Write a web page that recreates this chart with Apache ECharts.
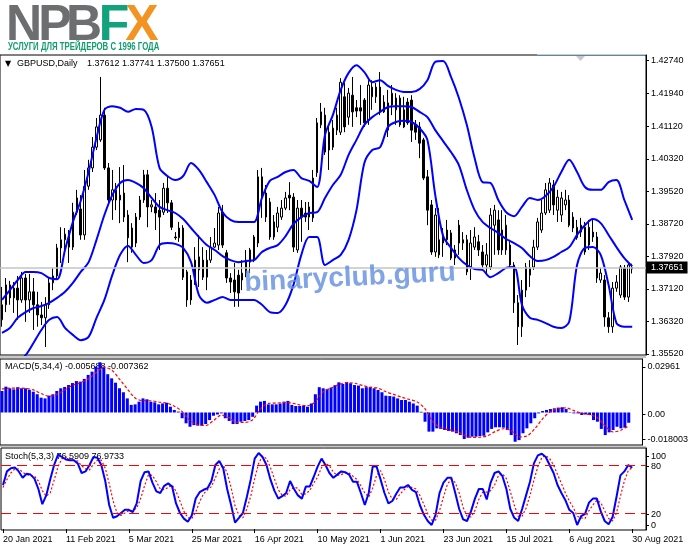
<!DOCTYPE html>
<html><head><meta charset="utf-8">
<script src="https://cdn.jsdelivr.net/npm/echarts@6/dist/echarts.min.js"></script>
<style>html,body{margin:0;padding:0;background:#fff}#c{width:691px;height:549px}</style>
</head><body><div id="c"></div>
<script>
// ---- tick labels ----
const tickLabels = ['20 Jan 2021','11 Feb 2021','5 Mar 2021','25 Mar 2021','16 Apr 2021','10 May 2021','1 Jun 2021','23 Jun 2021','15 Jul 2021','6 Aug 2021','30 Aug 2021'];
const priceTicks = [1.42740,1.41940,1.41120,1.40320,1.39520,1.38720,1.37920,1.37120,1.36320,1.35520];
const macdAxisLabels = ['0.02961','0.00','-0.018003'];
const stochAxisLabels = ['100','80','20','0'];

// ---- OHLC ----
const open = [
1.3636,1.3673,1.3722,1.3690,1.3714,1.3685,1.3739,1.3685,1.3705,1.3673,
1.3648,1.3641,1.3673,1.3727,1.3744,1.3813,1.3833,1.3847,1.3815,1.3901,
1.3909,1.3845,1.3965,1.4010,1.4061,1.4079,1.4140,1.4010,1.3931,1.3956,
1.3931,1.3948,1.3894,1.3815,1.3825,1.3889,1.3931,1.3993,1.3914,1.3914,
1.3906,1.3901,1.3960,1.3924,1.3840,1.3838,1.3862,1.3754,1.3734,1.3727,
1.3759,1.3783,1.3741,1.3783,1.3815,1.3820,1.3901,1.3801,1.3739,1.3734,
1.3746,1.3734,1.3751,1.3778,1.3783,1.3825,1.3988,1.3948,1.3926,1.3840,
1.3864,1.3889,1.3911,1.3943,1.3938,1.3808,1.3911,1.3899,1.3914,1.3887,
1.3998,1.4116,1.4140,1.4054,1.4061,1.4103,1.4098,1.4185,1.4135,1.4189,
1.4158,1.4158,1.4177,1.4128,1.4185,1.4185,1.4209,1.4172,1.4103,1.4165,
1.4153,1.4182,1.4153,1.4172,1.4177,1.4116,1.4111,1.4079,1.3988,1.3919,
1.3803,1.3833,1.3825,1.3833,1.3850,1.3788,1.3869,1.3833,1.3833,1.3766,
1.3815,1.3828,1.3803,1.3771,1.3766,1.3869,1.3882,1.3808,1.3808,1.3820,
1.3771,1.3678,1.3619,1.3709,1.3746,1.3766,1.3815,1.3857,1.3899,1.3906,
1.3968,1.3906,1.3894,1.3919,1.3931,1.3862,1.3838,1.3869,1.3803,1.3820,
1.3852,1.3840,1.3734,1.3734,1.3641,1.3619,1.3714,1.3697,1.3764,1.3692,
1.37612];
const close = [
1.3673,1.3722,1.3690,1.3714,1.3685,1.3739,1.3685,1.3705,1.3673,1.3648,
1.3641,1.3673,1.3727,1.3744,1.3813,1.3833,1.3847,1.3815,1.3901,1.3936,
1.3845,1.3965,1.4010,1.4061,1.4111,1.4140,1.4010,1.3931,1.3956,1.3931,
1.3943,1.3889,1.3838,1.3862,1.3889,1.3931,1.3993,1.3914,1.3919,1.3899,
1.3889,1.3960,1.3924,1.3864,1.3838,1.3862,1.3741,1.3685,1.3685,1.3783,
1.3791,1.3741,1.3783,1.3815,1.3825,1.3899,1.3820,1.3739,1.3729,1.3705,
1.3702,1.3751,1.3783,1.3808,1.3840,1.3988,1.3938,1.3889,1.3840,1.3877,
1.3899,1.3911,1.3936,1.3936,1.3815,1.3911,1.3889,1.3889,1.3889,1.3985,
1.4121,1.4148,1.4049,1.4098,1.4108,1.4140,1.4221,1.4111,1.4194,1.4148,
1.4150,1.4150,1.4121,1.4214,1.4209,1.4209,1.4148,1.4148,1.4170,1.4194,
1.4182,1.4116,1.4111,1.4121,1.4103,1.4098,1.4071,1.3985,1.3906,1.3803,
1.3894,1.3796,1.3845,1.3857,1.3788,1.3808,1.3825,1.3825,1.3754,1.3825,
1.3840,1.3808,1.3771,1.3796,1.3894,1.3906,1.3808,1.3857,1.3869,1.3771,
1.3678,1.3619,1.3709,1.3766,1.3764,1.3815,1.3877,1.3899,1.3956,1.3973,
1.3919,1.3938,1.3936,1.3931,1.3869,1.3889,1.3864,1.3852,1.3864,1.3864,
1.3840,1.3739,1.3751,1.3643,1.3619,1.3714,1.3729,1.3766,1.3692,1.3771,
1.37651];
const high = [
1.3717,1.3739,1.3732,1.3729,1.3744,1.3754,1.3749,1.3749,1.3739,1.3705,
1.3680,1.3692,1.3739,1.3764,1.3823,1.3864,1.3862,1.3857,1.3924,1.3956,
1.3943,1.4005,1.4030,1.4086,1.4133,1.4234,1.4158,1.4022,1.4005,1.3973,
1.4012,1.4017,1.3906,1.3874,1.3899,1.3941,1.4005,1.4005,1.3931,1.3948,
1.3931,1.3973,1.3988,1.3931,1.3852,1.3877,1.3869,1.3759,1.3746,1.3815,
1.3845,1.3815,1.3808,1.3840,1.3862,1.3914,1.3919,1.3808,1.3751,1.3776,
1.3759,1.3783,1.3808,1.3813,1.3845,1.4005,1.4010,1.3968,1.3936,1.3894,
1.3914,1.3931,1.3951,1.3975,1.3948,1.3931,1.3931,1.3926,1.3926,1.4005,
1.4133,1.4170,1.4158,1.4116,1.4128,1.4158,1.4231,1.4219,1.4207,1.4234,
1.4177,1.4214,1.4182,1.4226,1.4226,1.4219,1.4246,1.4189,1.4202,1.4214,
1.4194,1.4189,1.4185,1.4182,1.4189,1.4128,1.4123,1.4084,1.4005,1.3931,
1.3911,1.3911,1.3862,1.3882,1.3857,1.3820,1.3882,1.3852,1.3845,1.3857,
1.3864,1.3845,1.3820,1.3825,1.3911,1.3919,1.3906,1.3906,1.3894,1.3833,
1.3778,1.3697,1.3734,1.3776,1.3783,1.3833,1.3887,1.3931,1.3973,1.3985,
1.3980,1.3956,1.3951,1.3956,1.3943,1.3901,1.3882,1.3887,1.3877,1.3882,
1.3882,1.3852,1.3764,1.3746,1.3655,1.3729,1.3746,1.3771,1.3771,1.3778,
1.37741];
const low = [
1.3619,1.3655,1.3673,1.3653,1.3636,1.3678,1.3631,1.3653,1.3611,1.3619,
1.3623,1.3569,1.3663,1.3709,1.3734,1.3776,1.3796,1.3776,1.3808,1.3894,
1.3833,1.3833,1.3956,1.4000,1.4054,1.4074,1.4005,1.3919,1.3882,1.3906,
1.3874,1.3877,1.3778,1.3801,1.3815,1.3882,1.3924,1.3864,1.3901,1.3857,
1.3808,1.3894,1.3899,1.3857,1.3833,1.3828,1.3734,1.3668,1.3673,1.3722,
1.3717,1.3734,1.3709,1.3776,1.3813,1.3808,1.3813,1.3727,1.3702,1.3668,
1.3668,1.3709,1.3741,1.3751,1.3778,1.3815,1.3887,1.3877,1.3833,1.3833,
1.3852,1.3882,1.3906,1.3906,1.3803,1.3801,1.3828,1.3877,1.3857,1.3877,
1.3988,1.4108,1.4042,1.4005,1.4054,1.4091,1.4091,1.4098,1.4116,1.4111,
1.4135,1.4116,1.4111,1.4116,1.4153,1.4170,1.4140,1.4145,1.4086,1.4140,
1.4116,1.4111,1.4108,1.4116,1.4074,1.4079,1.4034,1.3980,1.3869,1.3796,
1.3791,1.3788,1.3791,1.3820,1.3783,1.3771,1.3796,1.3808,1.3746,1.3734,
1.3808,1.3793,1.3764,1.3746,1.3759,1.3796,1.3796,1.3796,1.3796,1.3764,
1.3653,1.3574,1.3594,1.3692,1.3717,1.3759,1.3808,1.3850,1.3894,1.3899,
1.3894,1.3877,1.3877,1.3906,1.3864,1.3852,1.3833,1.3840,1.3796,1.3808,
1.3828,1.3727,1.3727,1.3619,1.3604,1.3604,1.3705,1.3690,1.3685,1.3680,
1.37500];

// ---- Bollinger bands, read every second bar (bar 0,2,4,...,160) ----
const bbUpper = [
1.3685,1.3709,1.3734,1.3754,1.3754,1.3751,1.3739,1.3736,1.3808,1.3877,
1.3929,1.4000,1.4084,1.4153,1.4162,1.4158,1.4148,1.4155,1.4153,1.4111,
1.4010,1.3990,1.3980,1.3990,1.4022,1.4005,1.3975,1.3943,1.3901,1.3882,
1.3877,1.3877,1.3877,1.3936,1.3978,1.3988,1.4000,1.4005,1.3985,1.3978,
1.3963,1.4091,1.4140,1.4202,1.4244,1.4263,1.4246,1.4221,1.4226,1.4212,
1.4202,1.4197,1.4197,1.4204,1.4226,1.4271,1.4273,1.4234,1.4182,1.4116,
1.4034,1.3975,1.3973,1.3931,1.3901,1.3891,1.3914,1.3936,1.3931,1.3941,
1.3963,1.4000,1.4030,1.4000,1.3963,1.3956,1.3956,1.3975,1.3980,1.3931,
1.3882];
const bbMiddle = [
1.3604,1.3616,1.3641,1.3655,1.3665,1.3670,1.3678,1.3690,1.3705,1.3727,
1.3754,1.3778,1.3833,1.3894,1.3943,1.3973,1.3980,1.3973,1.3960,1.3936,
1.3914,1.3906,1.3899,1.3884,1.3862,1.3840,1.3820,1.3808,1.3793,1.3783,
1.3778,1.3781,1.3783,1.3803,1.3813,1.3820,1.3842,1.3872,1.3889,1.3899,
1.3901,1.3936,1.3968,1.3993,1.4042,1.4079,1.4116,1.4135,1.4148,1.4160,
1.4162,1.4162,1.4160,1.4148,1.4135,1.4103,1.4076,1.4049,1.4017,1.3956,
1.3906,1.3877,1.3862,1.3850,1.3835,1.3825,1.3813,1.3793,1.3781,1.3783,
1.3791,1.3803,1.3815,1.3845,1.3869,1.3884,1.3874,1.3845,1.3815,1.3788,
1.3768];
const bbLower = [
1.3512,1.3522,1.3532,1.3549,1.3579,1.3611,1.3636,1.3643,1.3616,1.3599,
1.3586,1.3594,1.3641,1.3685,1.3746,1.3796,1.3818,1.3796,1.3776,1.3783,
1.3820,1.3825,1.3823,1.3813,1.3778,1.3697,1.3678,1.3685,1.3692,1.3685,
1.3685,1.3685,1.3685,1.3673,1.3655,1.3653,1.3673,1.3722,1.3796,1.3840,
1.3840,1.3771,1.3783,1.3796,1.3833,1.3906,1.4022,1.4054,1.4061,1.4111,
1.4123,1.4126,1.4123,1.4108,1.4079,1.3943,1.3842,1.3813,1.3788,1.3771,
1.3761,1.3759,1.3741,1.3751,1.3764,1.3766,1.3673,1.3641,1.3636,1.3628,
1.3619,1.3616,1.3631,1.3771,1.3813,1.3815,1.3796,1.3722,1.3628,1.3619,
1.3619];

// ---- MACD(5,34,4) ----
const macdHist = [
0.0119,0.0143,0.0134,0.0128,0.0140,0.0134,0.0134,0.0125,0.0115,0.0101,
0.0082,0.0078,0.0093,0.0101,0.0119,0.0134,0.0141,0.0152,0.0163,0.0174,
0.0171,0.0186,0.0208,0.0226,0.0254,0.0278,0.0254,0.0212,0.0189,0.0165,
0.0134,0.0112,0.0078,0.0042,0.0045,0.0060,0.0078,0.0073,0.0060,0.0056,
0.0045,0.0050,0.0054,0.0032,0.0014,0.0005,-0.0032,-0.0060,-0.0079,-0.0070,
-0.0073,-0.0073,-0.0064,-0.0042,-0.0018,-0.0011,-0.0005,-0.0032,-0.0047,-0.0064,
-0.0064,-0.0051,-0.0047,-0.0042,-0.0024,0.0038,0.0060,0.0064,0.0045,0.0045,
0.0045,0.0050,0.0060,0.0064,0.0042,0.0036,0.0036,0.0038,0.0032,0.0050,
0.0101,0.0140,0.0134,0.0130,0.0138,0.0151,0.0167,0.0158,0.0169,0.0162,
0.0152,0.0149,0.0134,0.0140,0.0140,0.0134,0.0125,0.0112,0.0093,0.0091,
0.0088,0.0078,0.0069,0.0069,0.0060,0.0050,0.0038,0.0004,-0.0051,-0.0106,
-0.0106,-0.0088,-0.0091,-0.0097,-0.0102,-0.0106,-0.0115,-0.0125,-0.0147,-0.0140,
-0.0134,-0.0134,-0.0131,-0.0129,-0.0110,-0.0091,-0.0082,-0.0082,-0.0084,-0.0097,
-0.0125,-0.0162,-0.0153,-0.0115,-0.0088,-0.0060,-0.0032,-0.0005,0.0008,0.0014,
0.0019,0.0023,0.0027,0.0029,0.0019,0.0002,-0.0005,-0.0005,-0.0014,-0.0011,
-0.0014,-0.0042,-0.0051,-0.0091,-0.0125,-0.0110,-0.0097,-0.0079,-0.0088,-0.0084,
-0.005688];
// signal line, read every second bar
const macdSignal = [
0.0130,0.0135,0.0135,0.0133,0.0125,0.0105,0.0090,0.0100,0.0125,0.0150,
0.0165,0.0185,0.0220,0.0250,0.0235,0.0185,0.0130,0.0080,0.0065,0.0065,
0.0058,0.0052,0.0035,0.0005,-0.0045,-0.0068,-0.0072,-0.0045,-0.0015,-0.0030,
-0.0055,-0.0055,-0.0040,0.0020,0.0050,0.0052,0.0055,0.0052,0.0042,0.0038,
0.0060,0.0115,0.0135,0.0155,0.0165,0.0162,0.0150,0.0140,0.0135,0.0115,
0.0100,0.0085,0.0072,0.0058,0.0020,-0.0050,-0.0085,-0.0095,-0.0105,-0.0125,
-0.0138,-0.0137,-0.0128,-0.0105,-0.0090,-0.0100,-0.0135,-0.0130,-0.0090,-0.0035,
0.0005,0.0020,0.0025,0.0010,-0.0005,-0.0012,-0.0030,-0.0075,-0.0108,-0.0098,
-0.007362];

// ---- Stochastic(5,3,3) ----
const stochMain = [
55,72,76,77,72,64,69,68,63,50,
31,42,62,80,93,90,87,86,86,82,
70,72,80,90,89,80,60,30,14,16,
20,24,24,21,32,60,71,72,58,47,
45,54,57,53,32,20,13,9,17,38,
46,49,51,60,80,85,76,50,30,8,
14,20,40,62,88,95,90,80,62,48,
38,41,45,60,50,42,38,53,53,65,
78,88,80,70,64,68,72,71,68,59,
59,45,30,45,78,78,62,45,32,35,
44,52,52,55,49,46,30,18,10,5,
18,45,58,64,64,45,25,12,10,22,
38,50,50,37,58,70,72,66,50,25,
14,10,25,42,59,82,92,94,90,80,
70,55,45,36,24,20,5,16,19,33,
38,38,22,10,6,15,40,67,72,80,
76.5909];
const stochSignal = [
52,62,70,75,75,71,68,67,66,60,
48,41,45,61,78,88,90,88,86,85,
79,75,74,81,86,86,76,57,35,20,
17,20,23,23,26,38,54,68,67,59,
50,49,52,55,47,35,22,14,13,21,
34,44,49,53,64,75,80,70,52,29,
17,14,25,41,63,82,91,88,77,63,
49,42,41,49,52,51,43,44,48,57,
65,77,82,79,71,67,68,70,70,66,
62,54,45,40,51,67,73,62,46,37,
37,44,49,53,52,50,42,31,19,11,
11,23,40,56,62,58,45,27,16,15,
23,37,46,46,48,55,67,69,63,47,
30,16,16,26,42,61,78,89,92,88,
80,68,57,45,35,27,16,14,13,23,
30,36,33,23,13,10,20,41,60,73,
76.9733];
const stochLevels = [80, 20];

// ---- build ----
const NCAT = 164; // 161 bars + right shift space
const cats = Array.from({length: NCAT}, (_, i) => String(i));
const FONT = '"Liberation Sans", Arial, sans-serif';
const every2 = arr => arr.map((v, k) => [k * 2, v]);
const lblInterval = (idx) => idx % 16 === 0 && idx / 16 < tickLabels.length;
const last = close.length - 1;
const lastPrice = close[last];

const chart = echarts.init(document.getElementById('c'), null, {renderer: 'canvas', width: 691, height: 549});

const xAxes = [0, 1, 2].map(g => ({
  type: 'category', gridIndex: g, data: cats, boundaryGap: true,
  axisLine: {show: false},
  axisTick: {show: g === 2, interval: lblInterval, alignWithLabel: true, length: 4, lineStyle: {color: '#000'}},
  axisLabel: {show: g === 2, interval: lblInterval, align: 'left', fontSize: 9, color: '#000', fontFamily: FONT, margin: 5,
    formatter: v => { const i = +v; return i % 16 === 0 && tickLabels[i / 16] ? tickLabels[i / 16] : ''; }},
  splitLine: {show: false}
}));

const baseY = {
  type: 'value', position: 'right', splitLine: {show: false},
  axisLine: {show: true, lineStyle: {color: '#000'}}
};
const macdLabelPos = [0.0252, -0.0011, -0.0147];
const stochLabelPos = [90.5, 78.5, 18.5, 4.5];

const option = {
  animation: false,
  backgroundColor: '#fff',
  grid: [
    {left: 0, top: 55, width: 646, height: 300, show: true, borderColor: '#000', borderWidth: 1},
    {left: 0, top: 359, width: 646, height: 86, show: true, borderColor: '#000', borderWidth: 1},
    {left: 0, top: 448, width: 646, height: 82, show: true, borderColor: '#000', borderWidth: 1}
  ],
  xAxis: xAxes,
  yAxis: [
    Object.assign({}, baseY, {gridIndex: 0, min: 1.35494, max: 1.4288,
      axisTick: {show: true, customValues: priceTicks, length: 3, lineStyle: {color: '#000'}},
      axisLabel: {customValues: priceTicks, formatter: v => v.toFixed(5), fontSize: 9, color: '#000', fontFamily: FONT, margin: 5}}),
    Object.assign({}, baseY, {gridIndex: 1, min: -0.018003, max: 0.02961,
      axisTick: {show: true, customValues: macdLabelPos, length: 3, lineStyle: {color: '#000'}},
      axisLabel: {customValues: macdLabelPos, fontSize: 9, color: '#000', fontFamily: FONT, margin: 5,
        formatter: v => v > 0.01 ? macdAxisLabels[0] : (v < -0.01 ? macdAxisLabels[2] : macdAxisLabels[1])}}),
    Object.assign({}, baseY, {gridIndex: 2, min: -1.25, max: 101.25,
      axisTick: {show: true, customValues: stochLabelPos, length: 3, lineStyle: {color: '#000'}},
      axisLabel: {customValues: stochLabelPos, fontSize: 9, color: '#000', fontFamily: FONT, margin: 5,
        formatter: v => v > 88 ? stochAxisLabels[0] : (v > 50 ? stochAxisLabels[1] : (v > 10 ? stochAxisLabels[2] : stochAxisLabels[3]))}})
  ],
  series: [
    // current price line (drawn behind the candles)
    {type: 'line', xAxisIndex: 0, yAxisIndex: 0, data: [[0, lastPrice], [last, lastPrice]], symbol: 'none',
      lineStyle: {opacity: 0}, z: 1, silent: true,
      markLine: {silent: true, symbol: ['none', 'none'], precision: 6,
        data: [{yAxis: lastPrice}],
        lineStyle: {color: '#c4c4c4', width: 1.5, type: 'solid'},
        label: {show: true, position: 'end', distance: 1, formatter: () => lastPrice.toFixed(5),
          backgroundColor: '#000', color: '#fff', padding: [2, 4, 1, 4], fontSize: 9, fontFamily: FONT}}},
    {type: 'candlestick', xAxisIndex: 0, yAxisIndex: 0, barWidth: 2, z: 3,
      data: open.map((o, i) => [o, close[i], low[i], high[i]]),
      itemStyle: {color: '#fff', color0: '#000', borderColor: '#000', borderColor0: '#000', borderWidth: 1}},
    {type: 'line', xAxisIndex: 0, yAxisIndex: 0, data: every2(bbUpper), symbol: 'none', smooth: 0.3,
      lineStyle: {color: '#0000ff', width: 2}, z: 4},
    {type: 'line', xAxisIndex: 0, yAxisIndex: 0, data: every2(bbMiddle), symbol: 'none', smooth: 0.3,
      lineStyle: {color: '#0000ff', width: 2}, z: 4},
    {type: 'line', xAxisIndex: 0, yAxisIndex: 0, data: every2(bbLower), symbol: 'none', smooth: 0.3,
      lineStyle: {color: '#0000ff', width: 2}, z: 4},
    {type: 'bar', xAxisIndex: 1, yAxisIndex: 1, data: macdHist, barWidth: 3,
      itemStyle: {color: '#0000ff'}},
    {type: 'line', xAxisIndex: 1, yAxisIndex: 1, data: every2(macdSignal), symbol: 'none', smooth: 0.3,
      lineStyle: {color: '#ff0000', width: 1.2, type: [3, 2]}, z: 4},
    {type: 'line', xAxisIndex: 2, yAxisIndex: 2, data: stochSignal, symbol: 'none',
      lineStyle: {color: '#ff0000', width: 1.2, type: [2, 2]}, z: 3},
    {type: 'line', xAxisIndex: 2, yAxisIndex: 2, data: stochMain, symbol: 'none',
      lineStyle: {color: '#0000ff', width: 2}, z: 4,
      markLine: {silent: true, symbol: ['none', 'none'], label: {show: false},
        data: stochLevels.map(v => ({yAxis: v})),
        lineStyle: {color: '#ff0000', width: 1, type: [10, 6]}}}
  ],
  graphic: [
    // separators between panes
    {type: 'rect', shape: {x: 0, y: 356, width: 646, height: 2}, style: {fill: '#c8c8c8'}},
    {type: 'rect', shape: {x: 0, y: 446, width: 646, height: 1}, style: {fill: '#c8c8c8'}},
    {type: 'line', shape: {x1: 537, y1: 54.5, x2: 646, y2: 54.5}, style: {stroke: '#a6d6f2', lineWidth: 1}},
    {type: 'polygon', shape: {points: [[576, 56], [585, 56], [580.5, 61]]}, style: {fill: '#c8c8c8'}},
    // logo
    {type: 'text', x: 24, y: 26, style: {text: 'N', fontSize: 50, fontWeight: 'bold', fontFamily: FONT, fill: '#6d6e70', textAlign: 'center', textVerticalAlign: 'middle'}},
    {type: 'text', x: 55, y: 26, style: {text: 'P', fontSize: 50, fontWeight: 'bold', fontFamily: FONT, fill: '#6d6e70', textAlign: 'center', textVerticalAlign: 'middle'}},
    {type: 'text', x: 84, y: 26, style: {text: 'B', fontSize: 50, fontWeight: 'bold', fontFamily: FONT, fill: '#6d6e70', textAlign: 'center', textVerticalAlign: 'middle'}},
    {type: 'text', x: 114, y: 26, style: {text: 'F', fontSize: 50, fontWeight: 'bold', fontFamily: FONT, fill: '#12a37c', textAlign: 'center', textVerticalAlign: 'middle'}},
    {type: 'text', x: 142, y: 26, style: {text: 'X', fontSize: 50, fontWeight: 'bold', fontFamily: FONT, fill: '#f39321', textAlign: 'center', textVerticalAlign: 'middle'}},
    {type: 'text', x: 8, y: 47.5, scaleX: 0.745, style: {text: 'УСЛУГИ ДЛЯ ТРЕЙДЕРОВ С 1996 ГОДА', fontSize: 10.5, fontWeight: 'bold', fontFamily: FONT, fill: '#139d6f', textVerticalAlign: 'middle'}},
    // titles
    {type: 'text', x: 5, y: 64, style: {text: '▼', fontSize: 8, fontFamily: '"DejaVu Sans"', fill: '#000', textVerticalAlign: 'middle'}},
    {type: 'text', x: 17, y: 64, style: {text: 'GBPUSD,Daily', fontSize: 9, fontFamily: FONT, fill: '#000', textVerticalAlign: 'middle'}},
    {type: 'text', x: 87, y: 64, style: {text: '1.37612 1.37741 1.37500 1.37651', fontSize: 9, fontFamily: FONT, fill: '#000', textVerticalAlign: 'middle'}},
    {type: 'text', x: 5, y: 367, style: {text: 'MACD(5,34,4) -0.005688 -0.007362', fontSize: 9, fontFamily: FONT, fill: '#000', textVerticalAlign: 'middle'}},
    {type: 'text', x: 5, y: 457, style: {text: 'Stoch(5,3,3) 76.5909 76.9733', fontSize: 9, fontFamily: FONT, fill: '#000', textVerticalAlign: 'middle'}},
    // watermark
    {type: 'text', x: 350, y: 278, rotation: 0.05, z: 100, style: {text: 'binaryclub.guru', fontSize: 28, fontWeight: 'bold', fontFamily: FONT, fill: 'rgba(98,143,221,0.8)', textAlign: 'center', textVerticalAlign: 'middle'}}
  ]
};
chart.setOption(option);
</script>
</body></html>
